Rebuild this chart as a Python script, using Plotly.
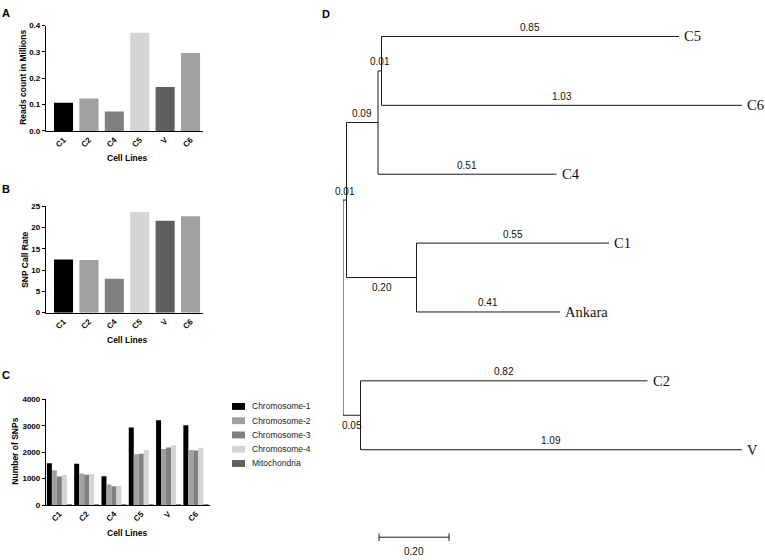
import plotly.graph_objects as go

W, H = 765, 560

# ---------------- data ----------------
cell_lines = ["C1", "C2", "C4", "C5", "V", "C6"]
reads_millions = [0.107, 0.123, 0.074, 0.373, 0.167, 0.296]
snp_call_rate = [12.5, 12.4, 8.0, 23.7, 21.6, 22.7]
bar_colors = ["#000000", "#a0a0a2", "#808080", "#d4d4d4", "#5f5f5f", "#a0a0a2"]

series_names = ["Chromosome-1", "Chromosome-2", "Chromosome-3", "Chromosome-4", "Mitochondria"]
chr1 = [1580, 1560, 1090, 2930, 3210, 3020]
chr2 = [1320, 1190, 780, 1920, 2120, 2080]
chr3 = [1080, 1150, 710, 1940, 2180, 2060]
chr4 = [1150, 1180, 730, 2080, 2260, 2170]
mito = [12, 12, 12, 12, 12, 12]
series_colors = ["#000000", "#a0a0a2", "#808080", "#d4d4d4", "#5f5f5f"]

# phylogenetic tree: edges (parent -> child, branch length)
edge_parent = ["root", "n1", "n2", "n3", "n3", "n2", "n1", "n4", "n4", "root", "n5", "n5"]
edge_child = ["n1", "n2", "n3", "C5", "C6", "C4", "n4", "C1", "Ankara", "n5", "C2", "V"]
edge_length = [0.01, 0.09, 0.01, 0.85, 1.03, 0.51, 0.20, 0.55, 0.41, 0.05, 0.82, 1.09]
tip_order = ["C5", "C6", "C4", "C1", "Ankara", "C2", "V"]
scale_bar_length = 0.20

# ---------------- helpers ----------------
def xdom(p0, p1):
    return [p0 / W, p1 / W]

def ydom(top, bottom):
    return [1 - bottom / H, 1 - top / H]

def px(x):
    return x / W

def py(y):
    return 1 - y / H

FONT = "Arial, Liberation Sans, sans-serif"
SERIF = "Liberation Serif, Times New Roman, serif"

fig = go.Figure()

# Panel A
fig.add_trace(go.Bar(x=cell_lines, y=reads_millions, marker=dict(color=bar_colors, line=dict(width=0)),
                     width=0.75, xaxis="x", yaxis="y", showlegend=False))
# Panel B
fig.add_trace(go.Bar(x=cell_lines, y=snp_call_rate, marker=dict(color=bar_colors, line=dict(width=0)),
                     width=0.75, xaxis="x2", yaxis="y2", showlegend=False))
# Panel C
for name, vals, col in zip(series_names, [chr1, chr2, chr3, chr4, mito], series_colors):
    fig.add_trace(go.Bar(x=cell_lines, y=vals, name=name, marker=dict(color=col, line=dict(width=0)),
                         xaxis="x3", yaxis="y3", showlegend=False))

# ---------------- tree layout ----------------
children = {}
for p, c in zip(edge_parent, edge_child):
    children.setdefault(p, []).append(c)
length_of = dict(zip(edge_child, edge_length))

xpos = {"root": 0.0}
def set_x(node):
    for c in children.get(node, []):
        xpos[c] = xpos[node] + length_of[c]
        set_x(c)
set_x("root")

ypos = {t: i for i, t in enumerate(tip_order)}
def set_y(node):
    if node in ypos:
        return ypos[node]
    ys = [set_y(c) for c in children[node]]
    ypos[node] = (ys[0] + ys[-1]) / 2
    return ypos[node]
set_y("root")

lx, ly = [], []
for node, ch in children.items():
    ys = [ypos[c] for c in ch]
    lx += [xpos[node], xpos[node], None]
    ly += [min(ys), max(ys), None]
for p, c in zip(edge_parent, edge_child):
    lx += [xpos[p], xpos[c], None]
    ly += [ypos[c], ypos[c], None]

fig.add_trace(go.Scatter(x=lx, y=ly, mode="lines", line=dict(color="#1a1a1a", width=1),
                         xaxis="x4", yaxis="y4", showlegend=False, hoverinfo="skip"))

# scale bar
sb_x0 = 0.103
sb_y = 7.27
tk = 0.055
fig.add_trace(go.Scatter(
    x=[sb_x0, sb_x0 + scale_bar_length, None, sb_x0, sb_x0, None, sb_x0 + scale_bar_length, sb_x0 + scale_bar_length],
    y=[sb_y, sb_y, None, sb_y - tk, sb_y + tk, None, sb_y - tk, sb_y + tk],
    mode="lines", line=dict(color="#1a1a1a", width=1), xaxis="x4", yaxis="y4",
    showlegend=False, hoverinfo="skip"))

annotations = []
# edge labels
for p, c, L in zip(edge_parent, edge_child, edge_length):
    is_internal = c in children
    below = is_internal and children[p][-1] == c
    annotations.append(dict(x=(xpos[p] + xpos[c]) / 2, y=ypos[c], xref="x4", yref="y4",
                            text=f"{L:.2f}", showarrow=False, yanchor="middle",
                            yshift=-10 if below else 9,
                            font=dict(family=FONT, size=10, color="#111")))
# tip labels
for t in tip_order:
    annotations.append(dict(x=xpos[t], y=ypos[t], xref="x4", yref="y4", text=t, showarrow=False,
                            xanchor="left", yanchor="middle", xshift=3,
                            font=dict(family=SERIF, size=14.5, color="#111")))
annotations.append(dict(x=sb_x0 + scale_bar_length / 2, y=sb_y, xref="x4", yref="y4",
                        text=f"{scale_bar_length:.2f}", showarrow=False, yanchor="middle", yshift=-14,
                        font=dict(family=FONT, size=10, color="#111")))

# panel letters
for letter, x, y in [("A", 6, 9), ("B", 6, 188), ("C", 6, 377), ("D", 326, 10)]:
    annotations.append(dict(x=px(x), y=py(y), xref="paper", yref="paper", text=f"<b>{letter}</b>",
                            showarrow=False, xanchor="center", yanchor="middle",
                            font=dict(family=FONT, size=11, color="#000")))

# axis titles
for txt, x, y in [("Cell Lines", 127, 157), ("Cell Lines", 127, 341), ("Cell Lines", 127, 538)]:
    annotations.append(dict(x=px(x), y=py(y), xref="paper", yref="paper", text=f"<b>{txt}</b>",
                            showarrow=False, xanchor="center", yanchor="middle",
                            font=dict(family=FONT, size=8.5, color="#000")))
for txt, x, y in [("Reads count in Millions", 23, 75), ("SNP Call Rate", 25, 260), ("Number of SNPs", 15, 455)]:
    annotations.append(dict(x=px(x), y=py(y), xref="paper", yref="paper", text=f"<b>{txt}</b>",
                            showarrow=False, textangle=-90, xanchor="center", yanchor="middle",
                            font=dict(family=FONT, size=8.5, color="#000")))

# manual legend for panel C
shapes = []
for i, (name, col) in enumerate(zip(series_names, series_colors)):
    yc = 409 + 14.5 * i
    shapes.append(dict(type="rect", xref="paper", yref="paper", x0=px(232), x1=px(245),
                       y0=py(yc + 3.5), y1=py(yc - 3.5), fillcolor=col, line=dict(width=0)))
    annotations.append(dict(x=px(250), y=py(yc), xref="paper", yref="paper", text=name,
                            showarrow=False, xanchor="left", yanchor="middle",
                            font=dict(family=FONT, size=8.5, color="#222")))

bar_x_common = dict(showline=True, linecolor="#000", linewidth=1.3, ticks="", tickangle=-45,
                    tickfont=dict(family=FONT, size=8, color="#000", weight="bold"),
                    showgrid=False, zeroline=False, type="category", fixedrange=True)
bar_y_common = dict(showline=True, linecolor="#000", linewidth=1.3, ticks="outside", ticklen=3,
                    tickwidth=1, tickcolor="#000",
                    tickfont=dict(family=FONT, size=8, color="#000", weight="bold"),
                    showgrid=False, zeroline=False, fixedrange=True)

fig.update_layout(
    width=W, height=H, margin=dict(l=0, r=0, t=0, b=0),
    paper_bgcolor="white", plot_bgcolor="white",
    barmode="group", bargap=0.084, bargroupgap=0,
    showlegend=False,
    xaxis=dict(domain=xdom(46, 203), range=[-0.69, 5.49], anchor="y", **bar_x_common),
    yaxis=dict(domain=ydom(22, 129), range=[0, 0.4], dtick=0.1, tickformat=".1f", anchor="x", **bar_y_common),
    xaxis2=dict(domain=xdom(46, 203), range=[-0.69, 5.49], anchor="y2", **bar_x_common),
    yaxis2=dict(domain=ydom(205.7, 313.7), range=[0, 25], dtick=5, anchor="x2", **bar_y_common),
    xaxis3=dict(domain=xdom(46, 209.5), range=[-0.49, 5.5], anchor="y3", **bar_x_common),
    yaxis3=dict(domain=ydom(401.7, 509.3), range=[0, 4000], dtick=1000, anchor="x3", **bar_y_common),
    xaxis4=dict(domain=xdom(343, W), range=[0, (W - 343) / 350.0], visible=False, anchor="y4", fixedrange=True),
    yaxis4=dict(domain=[0, 1], range=[(H - 33) / 70.0, -33 / 70.0], visible=False, anchor="x4", fixedrange=True),
    annotations=annotations, shapes=shapes,
)

fig.write_html("out.html", config={"displayModeBar": False},
               post_script="document.body.style.margin='0';document.body.style.overflow='hidden';")
